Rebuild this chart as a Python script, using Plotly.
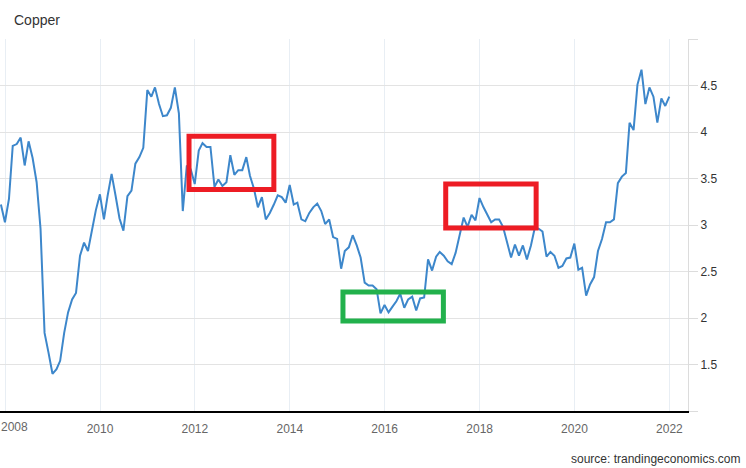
import pandas as pd
import plotly.graph_objects as go

# ── Data (month-end closes, USD/lb) ──────────────────────────────────────
START = "2007-11-30"
copper = [
    3.22, 3.03, 3.28, 3.85, 3.87, 3.94, 3.64, 3.90, 3.72, 3.46, 2.96, 1.84,   # Nov07-Oct08
    1.63, 1.40, 1.45, 1.54, 1.84, 2.06, 2.20, 2.27, 2.67, 2.81, 2.72, 2.96,   # Nov08-Oct09
    3.16, 3.33, 3.06, 3.31, 3.55, 3.32, 3.07, 2.94, 3.31, 3.37, 3.66, 3.73,   # Nov09-Oct10
    3.83, 4.45, 4.38, 4.48, 4.30, 4.17, 4.18, 4.26, 4.48, 4.20, 3.15, 3.64,   # Nov10-Oct11
    3.60, 3.44, 3.80, 3.88, 3.84, 3.84, 3.41, 3.49, 3.42, 3.46, 3.75, 3.54,   # Nov11-Oct12
    3.59, 3.59, 3.73, 3.53, 3.39, 3.19, 3.30, 3.06, 3.13, 3.22, 3.32, 3.30,   # Nov12-Oct13
    3.24, 3.43, 3.22, 3.24, 3.06, 3.04, 3.13, 3.19, 3.23, 3.15, 3.01, 3.06,   # Nov13-Oct14
    2.87, 2.85, 2.53, 2.72, 2.76, 2.89, 2.78, 2.65, 2.38, 2.35, 2.35, 2.31,   # Nov14-Oct15
    2.05, 2.14, 2.06, 2.12, 2.18, 2.26, 2.11, 2.20, 2.23, 2.08, 2.21, 2.22,   # Nov15-Oct16
    2.63, 2.51, 2.66, 2.71, 2.67, 2.61, 2.58, 2.70, 2.90, 3.08, 2.98, 3.11,   # Nov16-Oct17
    3.05, 3.29, 3.19, 3.12, 3.03, 3.06, 3.06, 2.98, 2.81, 2.65, 2.79, 2.67,   # Nov17-Oct18
    2.78, 2.63, 2.78, 2.96, 2.96, 2.93, 2.66, 2.71, 2.67, 2.54, 2.56, 2.64,   # Nov18-Oct19
    2.65, 2.80, 2.52, 2.54, 2.24, 2.36, 2.44, 2.72, 2.85, 3.03, 3.03, 3.06,   # Nov19-Oct20
    3.45, 3.52, 3.56, 4.10, 4.02, 4.51, 4.67, 4.30, 4.48, 4.38, 4.10, 4.36,   # Nov20-Oct21
    4.28, 4.38,                                                               # Nov21-Dec21
]
dates = pd.date_range(START, periods=len(copper), freq="ME")

# x ticks: first label sits flush with the left edge, drawn separately
x_ticks = ["2008-01-01", "2010-01-01", "2012-01-01", "2014-01-01",
           "2016-01-01", "2018-01-01", "2020-01-01", "2022-01-01"]
x_labels = ["", "2010", "2012", "2014", "2016", "2018", "2020", "2022"]
first_x_label = "2008"

# highlight boxes: (x0, x1, y0, y1, colour)
box_x0 = ["2011-11-17", "2017-04-15", "2015-02-14"]
box_x1 = ["2013-08-31", "2019-03-12", "2017-03-28"]
box_y0 = [3.383, 2.967, 1.968]
box_y1 = [3.953, 3.441, 2.279]
box_col = ["#ed1c24", "#ed1c24", "#22b14c"]

y_ticks = [1, 1.5, 2, 2.5, 3, 3.5, 4, 4.5, 5]
y_labels = ["", "1.5", "2", "2.5", "3", "3.5", "4", "4.5", ""]

FONT = "Liberation Sans, Arial, sans-serif"

fig = go.Figure()
fig.add_trace(go.Scatter(
    x=dates, y=copper, mode="lines",
    line=dict(color="#3d87cb", width=2),
    hoverinfo="x+y", showlegend=False,
))

for x0, x1, y0, y1, c in zip(box_x0, box_x1, box_y0, box_y1, box_col):
    fig.add_shape(type="rect", xref="x", yref="y",
                  x0=x0, x1=x1, y0=y0, y1=y1,
                  line=dict(color=c, width=5), fillcolor="rgba(0,0,0,0)")

fig.add_annotation(
    text=first_x_label, xref="paper", yref="paper",
    x=-0.001, y=-0.043, xanchor="left", yanchor="middle", showarrow=False,
    font=dict(family=FONT, size=12, color="#666666"),
)
fig.add_annotation(
    text="source: trandingeconomics.com", xref="paper", yref="paper",
    x=1.078, y=-0.128, xanchor="right", yanchor="middle", showarrow=False,
    font=dict(family=FONT, size=12, color="#333333"),
)

fig.update_layout(
    title=dict(text="Copper", xref="container", yref="container",
               x=14 / 746, y=1 - 20 / 468, xanchor="left", yanchor="middle",
               font=dict(family=FONT, size=14, color="#333333")),
    width=746, height=468,
    margin=dict(l=0, r=58, t=39, b=57),
    paper_bgcolor="white", plot_bgcolor="white",
    font=dict(family=FONT),
    xaxis=dict(
        range=["2007-11-23", "2022-05-24"],
        tickvals=x_ticks, ticktext=x_labels,
        showgrid=True, gridcolor="#e8eef4", gridwidth=1,
        showline=True, linecolor="#000000", linewidth=1.5,
        ticks="outside", ticklen=6, tickcolor="rgba(0,0,0,0)",
        automargin=False,
        tickfont=dict(size=12, color="#666666"),
        zeroline=False, fixedrange=True,
    ),
    yaxis=dict(
        range=[1, 5], side="right",
        tickvals=y_ticks, ticktext=y_labels,
        showgrid=True, gridcolor="#e3e3e3", gridwidth=1,
        showline=True, linecolor="#dcdcdc", linewidth=1,
        ticks="outside", ticklen=9, tickcolor="#dcdcdc",
        automargin=False,
        tickfont=dict(size=12, color="#333333"),
        zeroline=False, fixedrange=True,
    ),
)

# page body margin would shift the whole chart by 8px
fig.write_html("out.html", config={"displayModeBar": False},
               post_script="document.body.style.margin='0';")
